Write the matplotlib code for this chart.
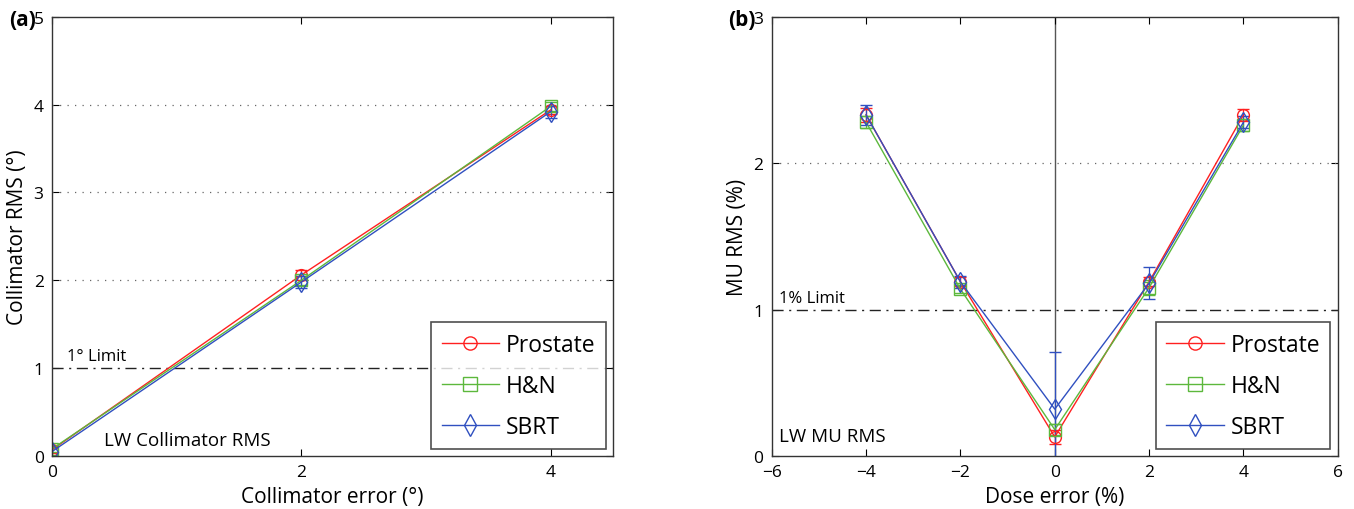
import matplotlib
matplotlib.use("Agg")
import matplotlib.pyplot as plt
from matplotlib.lines import Line2D
import numpy as np

plt.rcParams['font.family'] = ['Open Sans', 'DejaVu Sans']

series = ['Prostate', 'H&N', 'SBRT']
colors = ['#ff2020', '#5cb83c', '#3050c0']
markers = ['o', 's', 'd']

# Panel (a)
coll_x = [0, 2, 4]
coll_y = {
    'Prostate': [0.07, 2.06, 3.94],
    'H&N': [0.08, 2.00, 3.98],
    'SBRT': [0.05, 1.98, 3.92],
}
coll_err = {
    'Prostate': [0.04, 0.06, 0.05],
    'H&N': [0.04, 0.05, 0.05],
    'SBRT': [0.05, 0.07, 0.07],
}

# Panel (b)
dose_x = [-4, -2, 0, 2, 4]
mu_y = {
    'Prostate': [2.33, 1.19, 0.13, 1.19, 2.33],
    'H&N': [2.28, 1.14, 0.18, 1.15, 2.26],
    'SBRT': [2.33, 1.19, 0.32, 1.18, 2.28],
}
mu_err = {
    'Prostate': [0.05, 0.03, 0.05, 0.03, 0.04],
    'H&N': [0.04, 0.03, 0.04, 0.05, 0.04],
    'SBRT': [0.07, 0.04, 0.39, 0.11, 0.04],
}

fig = plt.figure(figsize=(13.54, 5.10), dpi=100)
ax1 = fig.add_axes([0.0384, 0.104, 0.4143, 0.861])
ax2 = fig.add_axes([0.570, 0.104, 0.418, 0.861])

def style(ax):
    ax.tick_params(direction='in', top=True, right=True, length=5, labelsize=12.5, pad=6)
    for s in ax.spines.values():
        s.set_linewidth(1.0)
        s.set_color('#333333')

def msize(m):
    return 10 if m == 'd' else 8.5

handles = [Line2D([], [], color=c, marker=m, markersize=msize(m) + 1, mfc='none',
                  mec=c, lw=1.0) for c, m in zip(colors, markers)]

def add_legend(ax):
    leg = ax.legend(handles, series, loc='lower right', fontsize=16.5, frameon=True,
                    fancybox=False, edgecolor='#222222', handlelength=2.5,
                    borderpad=0.45, labelspacing=0.75, handletextpad=0.3,
                    borderaxespad=0.0, bbox_to_anchor=(0.987, 0.015))
    leg.get_frame().set_linewidth(1.2)

for s, c, m in zip(series, colors, markers):
    ax1.errorbar(coll_x, coll_y[s], yerr=coll_err[s], color=c, marker=m,
                 markersize=msize(m), mfc='none', mec=c, lw=1.0,
                 capsize=4, elinewidth=0.9)
ax1.axhline(1, color='#222222', lw=1.0, dashes=[8, 4, 1.5, 4])
for yv in [2, 3, 4]:
    ax1.axhline(yv, color='#666666', lw=0.9, ls=(0, (1, 5)))
ax1.set_xlim(0, 4.5)
ax1.set_ylim(0, 5)
ax1.set_xticks([0, 2, 4])
ax1.set_yticks([0, 1, 2, 3, 4, 5])
ax1.set_xlabel('Collimator error (°)', fontsize=15)
ax1.set_ylabel('Collimator RMS (°)', fontsize=15)
ax1.text(0.12, 1.09, '1° Limit', fontsize=12)
ax1.text(0.42, 0.12, 'LW Collimator RMS', fontsize=13.5)
style(ax1)
add_legend(ax1)

for s, c, m in zip(series, colors, markers):
    ax2.errorbar(dose_x, mu_y[s], yerr=mu_err[s], color=c, marker=m,
                 markersize=msize(m), mfc='none', mec=c, lw=1.0,
                 capsize=4, elinewidth=0.9)
ax2.axhline(1, color='#222222', lw=1.0, dashes=[8, 4, 1.5, 4])
ax2.axhline(2, color='#666666', lw=0.9, ls=(0, (1, 5)))
ax2.axvline(0, color='#555555', lw=1.0, zorder=0.5)
ax2.set_xlim(-6, 6)
ax2.set_ylim(0, 3)
ax2.set_xticks([-6, -4, -2, 0, 2, 4, 6])
ax2.set_xticklabels(['\u22126', '\u22124', '\u22122', '0', '2', '4', '6'])
ax2.set_yticks([0, 1, 2, 3])
ax2.set_xlabel('Dose error (%)', fontsize=15)
ax2.set_ylabel('MU RMS (%)', fontsize=15)
ax2.text(-5.85, 1.05, '1% Limit', fontsize=12)
ax2.text(-5.85, 0.1, 'LW MU RMS', fontsize=13.5)
style(ax2)
add_legend(ax2)

fig.text(0.007, 0.95, '(a)', fontsize=15, fontweight='bold')
fig.text(0.538, 0.95, '(b)', fontsize=15, fontweight='bold')

fig.savefig('out.png', dpi=100)
